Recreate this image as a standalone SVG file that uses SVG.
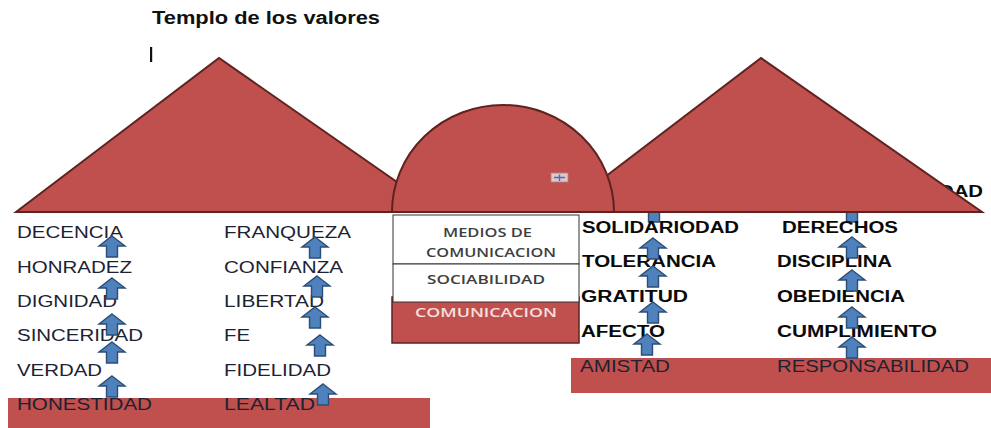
<svg xmlns="http://www.w3.org/2000/svg" width="991" height="428" viewBox="0 0 991 428">
<style>
.roof{fill:#c0504d;stroke:#5e2220;stroke-width:2;stroke-linejoin:miter}
.band{fill:#c0504d}
.lt{font-family:"Liberation Sans",Arial,sans-serif;font-size:16px;fill:#1c2233}
.bt{font-family:"Liberation Sans",Arial,sans-serif;font-size:16px;font-weight:bold;fill:#0a0a0a}
.bx{font-family:"Open Sans","Liberation Sans",sans-serif;font-size:13px;font-weight:600;fill:#3e3e3e;text-anchor:middle}
.arr{fill:#4f81bd;stroke:#2c4d75;stroke-width:1.4;stroke-linejoin:miter}
</style>
<defs>
<path id="up" d="M0,0 L13,10 L5.5,10 L5.5,21 L-5.5,21 L-5.5,10 L-13,10 Z"/>
</defs>

<g id="title">
<text x="152" y="24" font-family="Liberation Sans,Arial,sans-serif" font-size="18" font-weight="bold" fill="#111" textLength="228" lengthAdjust="spacingAndGlyphs">Templo de los valores</text>
<rect x="150" y="47" width="2.2" height="15" fill="#111"/>
</g>

<g id="hidden-arrows">
<use href="#up" class="arr" x="654" y="201"/>
<use href="#up" class="arr" x="852" y="201"/>
</g>

<g id="hidden-text">
<text class="bt" x="939" y="197" textLength="44" lengthAdjust="spacingAndGlyphs">DAD</text>
</g>

<g id="roof-left"><polygon class="roof" points="16,212 219,58 440,212"/></g>
<g id="roof-right"><polygon class="roof" points="559,212 761,58 982,212"/></g>
<g id="dome">
<path class="roof" d="M392,212 A111,107 0 0 1 614,212 Z"/>
<rect x="551" y="173" width="17" height="9" fill="#e6c4c4" stroke="#9a8a8a" stroke-width="0.8"/>
<path d="M554,177.5 H565 M559.5,174.5 V181" stroke="#3a6fd8" stroke-width="1.4" fill="none"/>
</g>
<line x1="16" y1="212" x2="982" y2="212" stroke="#5e2220" stroke-width="2"/>

<g id="band-left"><rect class="band" x="8" y="398" width="422" height="30"/></g>
<g id="band-right"><rect class="band" x="571" y="358" width="420" height="35"/></g>

<g id="center-box">
<rect x="392" y="297" width="187" height="46" fill="#c0504d" stroke="#5e2220" stroke-width="1.5"/>
<rect x="393" y="215" width="186" height="49" fill="#fff" stroke="#333" stroke-width="1"/>
<rect x="393" y="264" width="186" height="38" fill="#fff" stroke="#333" stroke-width="1"/>
<text class="bx" x="487.5" y="237" textLength="89" lengthAdjust="spacingAndGlyphs">MEDIOS DE</text>
<text class="bx" x="491" y="257" textLength="130" lengthAdjust="spacingAndGlyphs">COMUNICACION</text>
<text class="bx" x="486" y="284" textLength="118" lengthAdjust="spacingAndGlyphs">SOCIABILIDAD</text>
<text class="bx" x="486" y="317" textLength="142" lengthAdjust="spacingAndGlyphs" style="fill:#f4e0df">COMUNICACION</text>
</g>

<g id="col1">
<text class="lt" x="17" y="238" textLength="106" lengthAdjust="spacingAndGlyphs">DECENCIA</text>
<text class="lt" x="17" y="273" textLength="115" lengthAdjust="spacingAndGlyphs">HONRADEZ</text>
<text class="lt" x="17" y="307" textLength="100" lengthAdjust="spacingAndGlyphs">DIGNIDAD</text>
<text class="lt" x="17" y="341" textLength="126" lengthAdjust="spacingAndGlyphs">SINCERIDAD</text>
<text class="lt" x="17" y="376" textLength="85" lengthAdjust="spacingAndGlyphs">VERDAD</text>
<text class="lt" x="17" y="410" textLength="135" lengthAdjust="spacingAndGlyphs">HONESTIDAD</text>
</g>
<g id="col2">
<text class="lt" x="224" y="238" textLength="127" lengthAdjust="spacingAndGlyphs">FRANQUEZA</text>
<text class="lt" x="224" y="273" textLength="119" lengthAdjust="spacingAndGlyphs">CONFIANZA</text>
<text class="lt" x="224" y="307" textLength="100" lengthAdjust="spacingAndGlyphs">LIBERTAD</text>
<text class="lt" x="224" y="341" textLength="26" lengthAdjust="spacingAndGlyphs">FE</text>
<text class="lt" x="224" y="376" textLength="107" lengthAdjust="spacingAndGlyphs">FIDELIDAD</text>
<text class="lt" x="224" y="410" textLength="91" lengthAdjust="spacingAndGlyphs">LEALTAD</text>
</g>
<g id="col3">
<text class="bt" x="582" y="233" textLength="157" lengthAdjust="spacingAndGlyphs">SOLIDARIODAD</text>
<text class="bt" x="582" y="267" textLength="134" lengthAdjust="spacingAndGlyphs">TOLERANCIA</text>
<text class="bt" x="581" y="302" textLength="107" lengthAdjust="spacingAndGlyphs">GRATITUD</text>
<text class="bt" x="581" y="337" textLength="84" lengthAdjust="spacingAndGlyphs">AFECTO</text>
<text class="lt" x="580" y="372" textLength="90" lengthAdjust="spacingAndGlyphs">AMISTAD</text>
</g>
<g id="col4">
<text class="bt" x="782" y="233" textLength="116" lengthAdjust="spacingAndGlyphs">DERECHOS</text>
<text class="bt" x="777" y="267" textLength="115" lengthAdjust="spacingAndGlyphs">DISCIPLINA</text>
<text class="bt" x="777" y="302" textLength="128" lengthAdjust="spacingAndGlyphs">OBEDIENCIA</text>
<text class="bt" x="777" y="337" textLength="160" lengthAdjust="spacingAndGlyphs">CUMPLIMIENTO</text>
<text class="lt" x="777" y="372" textLength="192" lengthAdjust="spacingAndGlyphs">RESPONSABILIDAD</text>
</g>

<g id="connectors">
<use href="#up" class="arr" x="112" y="236"/>
<use href="#up" class="arr" x="112" y="278"/>
<use href="#up" class="arr" x="112" y="314"/>
<use href="#up" class="arr" x="112" y="342"/>
<use href="#up" class="arr" x="112" y="376"/>
<use href="#up" class="arr" x="315" y="237"/>
<use href="#up" class="arr" x="317" y="276"/>
<use href="#up" class="arr" x="315" y="307"/>
<use href="#up" class="arr" x="320" y="335"/>
<use href="#up" class="arr" x="323" y="384"/>
<use href="#up" class="arr" x="653" y="238"/>
<use href="#up" class="arr" x="653" y="266"/>
<use href="#up" class="arr" x="653" y="302"/>
<use href="#up" class="arr" x="647" y="334"/>
<use href="#up" class="arr" x="852" y="237"/>
<use href="#up" class="arr" x="852" y="270"/>
<use href="#up" class="arr" x="852" y="307"/>
<use href="#up" class="arr" x="852" y="337"/>
</g>
</svg>
